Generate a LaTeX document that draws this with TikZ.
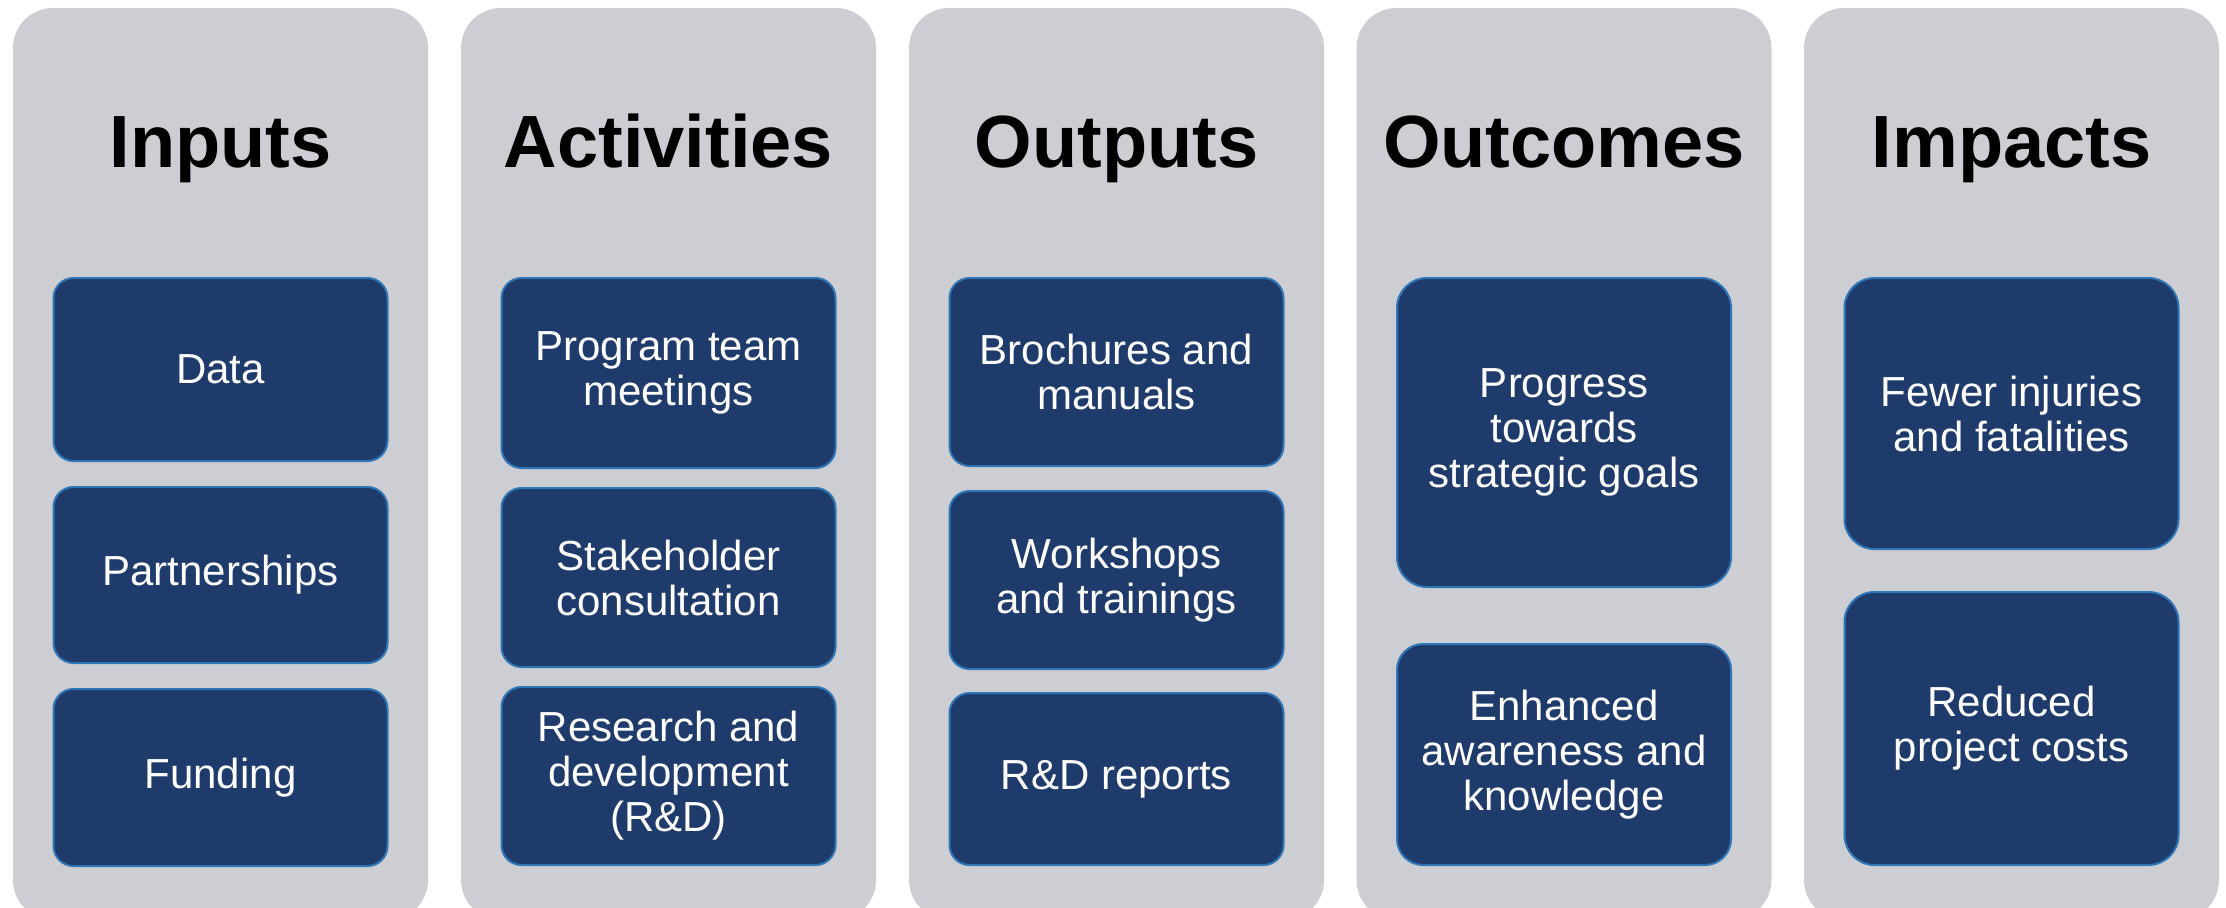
\documentclass[tikz,border=0pt]{standalone}
\usepackage{fontspec}
\setmainfont{Liberation Sans}
\usepackage{xcolor}
\usetikzlibrary{positioning}
\definecolor{ColumnGray}{RGB}{205, 206, 211}
\definecolor{BoxNavy}{RGB}{30, 59, 107}
\definecolor{BoxEdge}{RGB}{46, 117, 182}

\tikzset{
    column/.style={fill=ColumnGray, rounded corners=40pt},
    heading/.style={font=\bfseries\fontsize{74}{80}\selectfont, anchor=base},
    stage/.style={fill=BoxNavy, draw=BoxEdge, line width=2pt, text=white, align=center,
        font=\fontsize{42}{45}\selectfont, rounded corners=#1, minimum width=334pt, inner sep=0pt},
    stage/.default=20pt
}

\begin{document}
\begin{tikzpicture}[x=1pt, y=-1pt]
    \useasboundingbox (0,0) rectangle (2226,907);
    % gray columns and their headings
    \foreach \cx/\name/\title in {220.5/inputs/Inputs, 668.5/activities/Activities,
        1116.5/outputs/Outputs, 1564/outcomes/Outcomes, 2011.5/impacts/Impacts} {
        \fill[column] (\cx-207.5,8) rectangle (\cx+207.5,920);
        \node[heading] (\name) at (\cx,167) {\title};
    }
    % inputs
    \node[stage, minimum height=183pt] (data) at (220.5,369.5) {Data};
    \node[stage, minimum height=176pt] (partners) at (220.5,575) {Partnerships};
    \node[stage, minimum height=177pt] (funding) at (220.5,777.5) {Funding};
    % activities
    \node[stage, minimum height=190pt] (meetings) at (668.5,373) {Program team\\meetings};
    \node[stage, minimum height=179pt] (consult) at (668.5,577.5) {Stakeholder\\consultation};
    \node[stage, minimum height=178pt] (research) at (668.5,776) {Research and\\development\\(R\&D)};
    % outputs
    \node[stage, minimum height=188pt] (brochures) at (1116.5,372) {Brochures and\\manuals};
    \node[stage, minimum height=178pt] (workshops) at (1116.5,580) {Workshops\\and trainings};
    \node[stage, minimum height=172pt] (reports) at (1116.5,779) {R\&D reports};
    % outcomes
    \node[stage=30pt, minimum height=309pt] (progress) at (1564,432.5) {Progress\\towards\\strategic goals};
    \node[stage=26pt, minimum height=221pt] (awareness) at (1564,754.5) {Enhanced\\awareness and\\knowledge};
    % impacts
    \node[stage=30pt, minimum height=271pt] (injuries) at (2011.5,413.5) {Fewer injuries\\and fatalities};
    \node[stage=30pt, minimum height=273pt] (costs) at (2011.5,728.5) {Reduced\\project costs};
\end{tikzpicture}
\end{document}
